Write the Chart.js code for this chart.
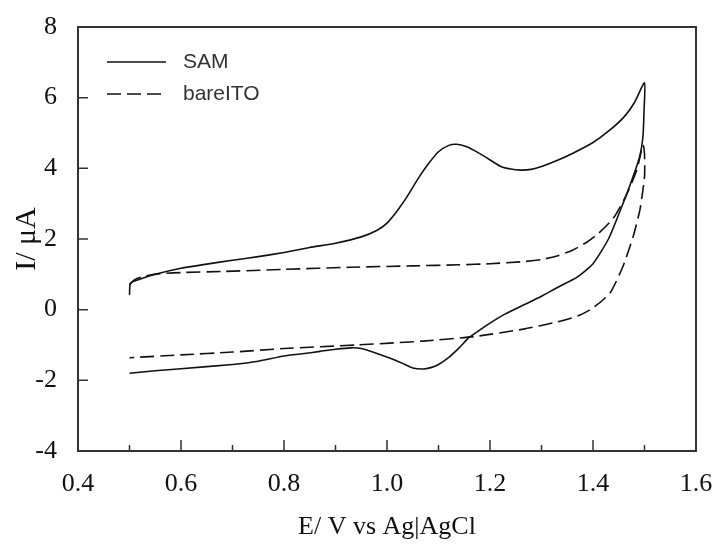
<!DOCTYPE html>
<html>
<head>
<meta charset="utf-8">
<script src="https://cdn.jsdelivr.net/npm/chart.js@4"></script>
<style>
  body { margin: 0; background: #fff; }
  #wrap { width: 717px; height: 545px; }
</style>
</head>
<body>
<div id="wrap"><canvas id="cvChart" width="717" height="545"></canvas></div>
<script>
// 数据
const samX = [0.500, 0.502, 0.52, 0.55, 0.60, 0.65, 0.70, 0.75, 0.80, 0.85, 0.90, 0.95, 0.98, 1.00, 1.02, 1.04, 1.06, 1.08, 1.10, 1.12, 1.135, 1.155, 1.17, 1.19, 1.22, 1.24, 1.26, 1.28, 1.30, 1.33, 1.36, 1.40, 1.43, 1.46, 1.48, 1.50,
              1.499, 1.497, 1.49, 1.47, 1.45, 1.43, 1.40, 1.37, 1.33, 1.30, 1.265, 1.23, 1.20, 1.18, 1.16, 1.14, 1.12, 1.10, 1.085, 1.07, 1.05, 1.03, 1.005, 0.975, 0.95, 0.93, 0.90, 0.87, 0.84, 0.80, 0.75, 0.70, 0.60, 0.55, 0.50];
const samY = [0.42, 0.75, 0.86, 1.00, 1.17, 1.29, 1.40, 1.50, 1.62, 1.76, 1.88, 2.06, 2.24, 2.45, 2.80, 3.22, 3.70, 4.12, 4.47, 4.65, 4.68, 4.61, 4.50, 4.33, 4.06, 3.98, 3.95, 3.97, 4.05, 4.22, 4.42, 4.73, 5.05, 5.45, 5.85, 6.42,
              5.60, 4.90, 4.30, 3.45, 2.70, 2.00, 1.30, 0.93, 0.62, 0.38, 0.13, -0.12, -0.38, -0.58, -0.78, -1.08, -1.35, -1.55, -1.64, -1.68, -1.65, -1.52, -1.37, -1.21, -1.10, -1.08, -1.12, -1.18, -1.24, -1.31, -1.46, -1.55, -1.67, -1.73, -1.80];

const bareX = [0.50, 0.51, 0.53, 0.56, 0.60, 0.68, 0.80, 0.93, 1.05, 1.14, 1.20, 1.265, 1.30, 1.33, 1.36, 1.39, 1.41, 1.44, 1.465, 1.485, 1.497,
               1.500, 1.500, 1.491, 1.478, 1.458, 1.433, 1.40, 1.37, 1.33, 1.265, 1.17, 1.07, 0.94, 0.80, 0.70, 0.60, 0.50];
const bareY = [0.70, 0.85, 0.95, 1.02, 1.05, 1.08, 1.14, 1.20, 1.24, 1.27, 1.30, 1.36, 1.42, 1.52, 1.68, 1.93, 2.15, 2.60, 3.25, 3.95, 4.66,
               4.40, 3.76, 2.82, 2.07, 1.22, 0.47, 0.05, -0.18, -0.35, -0.55, -0.76, -0.89, -1.00, -1.10, -1.20, -1.28, -1.36];

const seriesNames = ['SAM', 'bareITO'];
const xTicks = [0.4, 0.6, 0.8, 1.0, 1.2, 1.4, 1.6];
const yTicks = [-4, -2, 0, 2, 4, 6, 8];

function toPoints(xs, ys) {
    return xs.map((x, i) => ({ x: x, y: ys[i] }));
}

const serif = '"Liberation Serif", "Times New Roman", serif';
const sans = '"Liberation Sans", Arial, sans-serif';

// 边框、内向刻度和图例
const framePlugin = {
    id: 'frame',
    afterDraw(chart) {
        const ctx = chart.ctx;
        const a = chart.chartArea;
        const xs = chart.scales.x, ys = chart.scales.y;
        ctx.save();
        ctx.strokeStyle = '#333';
        ctx.lineWidth = 2;
        ctx.strokeRect(a.left, a.top, a.right - a.left, a.bottom - a.top);

        ctx.lineWidth = 1.5;
        ctx.beginPath();
        xTicks.forEach((v, i) => {
            const px = xs.getPixelForValue(v);
            ctx.moveTo(px, a.bottom);
            ctx.lineTo(px, a.bottom - 11);
            if (i < xTicks.length - 1) {
                const mx = xs.getPixelForValue(v + 0.1);
                ctx.moveTo(mx, a.bottom);
                ctx.lineTo(mx, a.bottom - 6);
            }
        });
        yTicks.forEach(v => {
            const py = ys.getPixelForValue(v);
            ctx.moveTo(a.left, py);
            ctx.lineTo(a.left + 10, py);
        });
        ctx.stroke();

        // 图例
        const ds = chart.data.datasets;
        ds.forEach((d, i) => {
            const y = a.top + 35 + i * 32;
            ctx.strokeStyle = d.borderColor;
            ctx.lineWidth = d.borderWidth;
            ctx.setLineDash(d.borderDash || []);
            ctx.beginPath();
            ctx.moveTo(a.left + 29, y);
            ctx.lineTo(a.left + 88, y);
            ctx.stroke();
            ctx.setLineDash([]);
            ctx.fillStyle = '#333';
            ctx.font = '21px ' + sans;
            ctx.textBaseline = 'middle';
            ctx.fillText(d.label, a.left + 105, y);
        });
        ctx.restore();
    }
};

new Chart(document.getElementById('cvChart').getContext('2d'), {
    type: 'scatter',
    data: {
        datasets: [{
            label: seriesNames[0],
            data: toPoints(samX, samY),
            showLine: true,
            borderColor: '#111',
            borderWidth: 1.6,
            pointRadius: 0,
            tension: 0.2
        }, {
            label: seriesNames[1],
            data: toPoints(bareX, bareY),
            showLine: true,
            borderColor: '#111',
            borderWidth: 1.6,
            borderDash: [14, 6],
            pointRadius: 0,
            tension: 0.2
        }]
    },
    options: {
        responsive: false,
        animation: false,
        layout: { padding: { top: 27, right: 21, left: 0, bottom: 0 } },
        plugins: {
            legend: { display: false },
            tooltip: { enabled: false }
        },
        scales: {
            x: {
                type: 'linear',
                min: 0.4,
                max: 1.6,
                grid: { display: false },
                border: { display: false },
                afterBuildTicks: s => { s.ticks = xTicks.map(v => ({ value: v })); },
                afterFit: s => { s.height = 94; s.paddingLeft = 0; s.paddingRight = 0; },
                ticks: {
                    color: '#111',
                    padding: 10,
                    maxRotation: 0,
                    font: { family: serif, size: 26 },
                    callback: v => Number(v).toFixed(1)
                },
                title: {
                    display: true,
                    text: 'E/ V vs Ag|AgCl',
                    color: '#111',
                    font: { family: serif, size: 26 },
                    padding: { top: 0, bottom: 2 }
                }
            },
            y: {
                min: -4,
                max: 8,
                grid: { display: false },
                border: { display: false },
                afterBuildTicks: s => { s.ticks = yTicks.map(v => ({ value: v })); },
                afterFit: s => { s.width = 78; s.paddingTop = 0; s.paddingBottom = 0; },
                ticks: {
                    color: '#111',
                    padding: 13,
                    font: { family: serif, size: 26 }
                },
                title: {
                    display: true,
                    text: 'I/ μA',
                    color: '#111',
                    font: { family: serif, size: 30 },
                    padding: { top: 9, bottom: 0 }
                }
            }
        }
    },
    plugins: [framePlugin]
});
</script>
</body>
</html>
